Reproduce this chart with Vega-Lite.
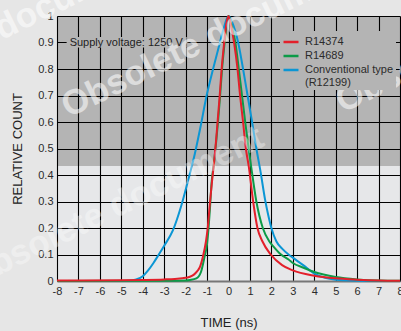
{
  "$schema": "https://vega.github.io/schema/vega-lite/v6.json",
  "width": 343,
  "height": 265,
  "autosize": "none",
  "padding": {"left": 57, "top": 16, "right": 1, "bottom": 50},
  "background": "#e6e6e6",
  "config": {
    "font": "Liberation Sans",
    "view": {
      "stroke": null,
      "fill": {
        "gradient": "linear",
        "x1": 0, "y1": 0, "x2": 0, "y2": 1,
        "stops": [
          {"offset": 0, "color": "#b4b4b4"},
          {"offset": 0.566, "color": "#b4b4b4"},
          {"offset": 0.567, "color": "#e6e7e9"},
          {"offset": 1, "color": "#e6e7e9"}
        ]
      }
    },
    "axis": {
      "grid": true,
      "gridColor": "#000000",
      "gridOpacity": 1,
      "gridWidth": 1.1,
      "ticks": false,
      "labelOverlap": false,
      "labelFlush": false,
      "labelPadding": 4,
      "labelFont": "Liberation Sans",
      "labelFontSize": 11,
      "labelColor": "#2b2b2b",
      "titleFont": "Liberation Sans",
      "titleFontSize": 13,
      "titleFontWeight": "normal",
      "titleColor": "#222222"
    },
    "axisX": {"tickCount": 16, "labelExpr": "'' + datum.value", "titlePadding": 20, "domainColor": "#777777", "domainWidth": 2},
    "axisY": {"tickCount": 10, "format": "~g", "titlePadding": 13, "domain": false},
    "legend": {
      "orient": "none",
      "legendX": 223,
      "legendY": 15,
      "zindex": 1,
      "fillColor": "#b4b4b4",
      "padding": 2,
      "symbolType": "stroke",
      "symbolStrokeWidth": 2.5,
      "symbolSize": 225,
      "labelFont": "Liberation Sans",
      "labelFontSize": 11,
      "labelColor": "#2b2b2b",
      "labelOffset": 5,
      "labelLimit": 200,
      "rowPadding": -1,
      "title": null
    }
  },
  "layer": [
    {
      "data": {
        "values": [
          {"series": "Conventional type (R12199)", "t": -8, "count": 0},
          {"series": "Conventional type (R12199)", "t": -6, "count": 0},
          {"series": "Conventional type (R12199)", "t": -5, "count": 0},
          {"series": "Conventional type (R12199)", "t": -4.6, "count": 0.001},
          {"series": "Conventional type (R12199)", "t": -4.3, "count": 0.006},
          {"series": "Conventional type (R12199)", "t": -4, "count": 0.018},
          {"series": "Conventional type (R12199)", "t": -3.75, "count": 0.04},
          {"series": "Conventional type (R12199)", "t": -3.5, "count": 0.068},
          {"series": "Conventional type (R12199)", "t": -3.25, "count": 0.1},
          {"series": "Conventional type (R12199)", "t": -3, "count": 0.133},
          {"series": "Conventional type (R12199)", "t": -2.6, "count": 0.19},
          {"series": "Conventional type (R12199)", "t": -2.2, "count": 0.285},
          {"series": "Conventional type (R12199)", "t": -1.9, "count": 0.375},
          {"series": "Conventional type (R12199)", "t": -1.57, "count": 0.48},
          {"series": "Conventional type (R12199)", "t": -1.31, "count": 0.58},
          {"series": "Conventional type (R12199)", "t": -1.02, "count": 0.7},
          {"series": "Conventional type (R12199)", "t": -0.72, "count": 0.8},
          {"series": "Conventional type (R12199)", "t": -0.4, "count": 0.9},
          {"series": "Conventional type (R12199)", "t": -0.2, "count": 0.96},
          {"series": "Conventional type (R12199)", "t": 0, "count": 1.0},
          {"series": "Conventional type (R12199)", "t": 0.2, "count": 0.97},
          {"series": "Conventional type (R12199)", "t": 0.45, "count": 0.9},
          {"series": "Conventional type (R12199)", "t": 0.68, "count": 0.8},
          {"series": "Conventional type (R12199)", "t": 0.89, "count": 0.7},
          {"series": "Conventional type (R12199)", "t": 1.1, "count": 0.6},
          {"series": "Conventional type (R12199)", "t": 1.3, "count": 0.5},
          {"series": "Conventional type (R12199)", "t": 1.5, "count": 0.41},
          {"series": "Conventional type (R12199)", "t": 1.7, "count": 0.31},
          {"series": "Conventional type (R12199)", "t": 1.85, "count": 0.25},
          {"series": "Conventional type (R12199)", "t": 2.0, "count": 0.2},
          {"series": "Conventional type (R12199)", "t": 2.23, "count": 0.15},
          {"series": "Conventional type (R12199)", "t": 2.5, "count": 0.122},
          {"series": "Conventional type (R12199)", "t": 2.8, "count": 0.1},
          {"series": "Conventional type (R12199)", "t": 3.0, "count": 0.088},
          {"series": "Conventional type (R12199)", "t": 3.5, "count": 0.059},
          {"series": "Conventional type (R12199)", "t": 4.0, "count": 0.028},
          {"series": "Conventional type (R12199)", "t": 4.5, "count": 0.012},
          {"series": "Conventional type (R12199)", "t": 5, "count": 0.005},
          {"series": "Conventional type (R12199)", "t": 6, "count": 0.001},
          {"series": "Conventional type (R12199)", "t": 7, "count": 0},
          {"series": "Conventional type (R12199)", "t": 8, "count": 0},
          {"series": "R14689", "t": -8, "count": 0},
          {"series": "R14689", "t": -3, "count": 0.001},
          {"series": "R14689", "t": -2, "count": 0.002},
          {"series": "R14689", "t": -1.8, "count": 0.004},
          {"series": "R14689", "t": -1.5, "count": 0.01},
          {"series": "R14689", "t": -1.28, "count": 0.035},
          {"series": "R14689", "t": -1.12, "count": 0.09},
          {"series": "R14689", "t": -1.0, "count": 0.14},
          {"series": "R14689", "t": -0.93, "count": 0.2},
          {"series": "R14689", "t": -0.86, "count": 0.28},
          {"series": "R14689", "t": -0.79, "count": 0.37},
          {"series": "R14689", "t": -0.67, "count": 0.45},
          {"series": "R14689", "t": -0.57, "count": 0.53},
          {"series": "R14689", "t": -0.48, "count": 0.61},
          {"series": "R14689", "t": -0.39, "count": 0.7},
          {"series": "R14689", "t": -0.3, "count": 0.8},
          {"series": "R14689", "t": -0.18, "count": 0.9},
          {"series": "R14689", "t": -0.08, "count": 0.97},
          {"series": "R14689", "t": 0, "count": 1.0},
          {"series": "R14689", "t": 0.12, "count": 0.97},
          {"series": "R14689", "t": 0.32, "count": 0.9},
          {"series": "R14689", "t": 0.48, "count": 0.8},
          {"series": "R14689", "t": 0.63, "count": 0.7},
          {"series": "R14689", "t": 0.78, "count": 0.6},
          {"series": "R14689", "t": 0.94, "count": 0.5},
          {"series": "R14689", "t": 1.06, "count": 0.43},
          {"series": "R14689", "t": 1.3, "count": 0.3},
          {"series": "R14689", "t": 1.6, "count": 0.2},
          {"series": "R14689", "t": 1.9, "count": 0.15},
          {"series": "R14689", "t": 2.1, "count": 0.13},
          {"series": "R14689", "t": 2.45, "count": 0.1},
          {"series": "R14689", "t": 2.8, "count": 0.081},
          {"series": "R14689", "t": 3, "count": 0.068},
          {"series": "R14689", "t": 3.5, "count": 0.05},
          {"series": "R14689", "t": 4, "count": 0.034},
          {"series": "R14689", "t": 5, "count": 0.015},
          {"series": "R14689", "t": 6, "count": 0.006},
          {"series": "R14689", "t": 7, "count": 0.002},
          {"series": "R14689", "t": 8, "count": 0.001},
          {"series": "R14374", "t": -8, "count": 0.002},
          {"series": "R14374", "t": -5, "count": 0.003},
          {"series": "R14374", "t": -4, "count": 0.004},
          {"series": "R14374", "t": -3, "count": 0.006},
          {"series": "R14374", "t": -2.5, "count": 0.008},
          {"series": "R14374", "t": -2, "count": 0.012},
          {"series": "R14374", "t": -1.8, "count": 0.016},
          {"series": "R14374", "t": -1.6, "count": 0.025},
          {"series": "R14374", "t": -1.45, "count": 0.038},
          {"series": "R14374", "t": -1.35, "count": 0.05},
          {"series": "R14374", "t": -1.2, "count": 0.09},
          {"series": "R14374", "t": -1.05, "count": 0.15},
          {"series": "R14374", "t": -0.97, "count": 0.2},
          {"series": "R14374", "t": -0.86, "count": 0.3},
          {"series": "R14374", "t": -0.77, "count": 0.375},
          {"series": "R14374", "t": -0.67, "count": 0.45},
          {"series": "R14374", "t": -0.58, "count": 0.53},
          {"series": "R14374", "t": -0.5, "count": 0.61},
          {"series": "R14374", "t": -0.41, "count": 0.7},
          {"series": "R14374", "t": -0.32, "count": 0.8},
          {"series": "R14374", "t": -0.2, "count": 0.9},
          {"series": "R14374", "t": -0.1, "count": 0.97},
          {"series": "R14374", "t": 0, "count": 1.0},
          {"series": "R14374", "t": 0.1, "count": 0.97},
          {"series": "R14374", "t": 0.26, "count": 0.9},
          {"series": "R14374", "t": 0.42, "count": 0.8},
          {"series": "R14374", "t": 0.54, "count": 0.7},
          {"series": "R14374", "t": 0.68, "count": 0.6},
          {"series": "R14374", "t": 0.81, "count": 0.5},
          {"series": "R14374", "t": 0.95, "count": 0.43},
          {"series": "R14374", "t": 1.15, "count": 0.3},
          {"series": "R14374", "t": 1.35, "count": 0.2},
          {"series": "R14374", "t": 1.58, "count": 0.15},
          {"series": "R14374", "t": 1.97, "count": 0.1},
          {"series": "R14374", "t": 2.5, "count": 0.06},
          {"series": "R14374", "t": 3, "count": 0.04},
          {"series": "R14374", "t": 4, "count": 0.02},
          {"series": "R14374", "t": 5, "count": 0.01},
          {"series": "R14374", "t": 6, "count": 0.005},
          {"series": "R14374", "t": 7, "count": 0.002},
          {"series": "R14374", "t": 8, "count": 0.001}
        ]
      },
      "mark": {"type": "line", "strokeWidth": 2, "interpolate": "monotone"},
      "encoding": {
        "x": {
          "field": "t", "type": "quantitative",
          "scale": {"domain": [-8, 8]},
          "axis": {"title": "TIME (ns)"}
        },
        "y": {
          "field": "count", "type": "quantitative",
          "scale": {"domain": [0, 1]},
          "axis": {"title": "RELATIVE COUNT"}
        },
        "color": {
          "field": "series", "type": "nominal",
          "scale": {
            "domain": ["R14374", "R14689", "Conventional type (R12199)"],
            "range": ["#e3202b", "#0c9b48", "#0b96d4"]
          },
          "legend": {
            "labelExpr": "datum.label == 'Conventional type (R12199)' ? ['Conventional type', '(R12199)'] : datum.label"
          }
        }
      }
    },
    {
      "data": {"values": [{"label": "Supply voltage: 1250 V"}]},
      "mark": {"type": "rect", "fill": "#b4b4b4"},
      "encoding": {
        "x": {"datum": -7.55, "type": "quantitative", "scale": {"domain": [-8, 8]}},
        "x2": {"datum": -1.95},
        "y": {"datum": 0.881, "type": "quantitative", "scale": {"domain": [0, 1]}},
        "y2": {"datum": 0.921}
      }
    },
    {
      "data": {"values": [{"label": "Supply voltage: 1250 V"}]},
      "mark": {"type": "text", "align": "left", "baseline": "middle", "font": "Liberation Sans", "fontSize": 11, "color": "#222222"},
      "encoding": {
        "x": {"datum": -7.41, "type": "quantitative", "scale": {"domain": [-8, 8]}},
        "y": {"datum": 0.9, "type": "quantitative", "scale": {"domain": [0, 1]}},
        "text": {"field": "label"}
      }
    },
    {
      "data": {"values": [{"w": "Obsolete document"}]},
      "mark": {"type": "text", "align": "left", "baseline": "middle", "angle": -26, "font": "Liberation Sans", "fontWeight": "bold", "fontSize": 35, "color": "#ffffff", "opacity": 0.55},
      "encoding": {
        "x": {"datum": -7.69, "type": "quantitative", "scale": {"domain": [-8, 8]}},
        "y": {"datum": 0.652, "type": "quantitative", "scale": {"domain": [0, 1]}},
        "text": {"field": "w"}
      }
    },
    {
      "data": {"values": [{"w": "Obsolete document"}]},
      "mark": {"type": "text", "align": "left", "baseline": "middle", "angle": -26, "font": "Liberation Sans", "fontWeight": "bold", "fontSize": 35, "color": "#ffffff", "opacity": 0.55},
      "encoding": {
        "x": {"datum": -17.49, "type": "quantitative", "scale": {"domain": [-8, 8]}},
        "y": {"datum": 0.682, "type": "quantitative", "scale": {"domain": [0, 1]}},
        "text": {"field": "w"}
      }
    },
    {
      "data": {"values": [{"w": "Obsolete document"}]},
      "mark": {"type": "text", "align": "left", "baseline": "middle", "angle": -26, "font": "Liberation Sans", "fontWeight": "bold", "fontSize": 35, "color": "#ffffff", "opacity": 0.55},
      "encoding": {
        "x": {"datum": 5.1, "type": "quantitative", "scale": {"domain": [-8, 8]}},
        "y": {"datum": 0.67, "type": "quantitative", "scale": {"domain": [0, 1]}},
        "text": {"field": "w"}
      }
    },
    {
      "data": {"values": [{"w": "Obsolete document"}]},
      "mark": {"type": "text", "align": "left", "baseline": "middle", "angle": -26, "font": "Liberation Sans", "fontWeight": "bold", "fontSize": 35, "color": "#ffffff", "opacity": 0.35},
      "encoding": {
        "x": {"datum": -12.17, "type": "quantitative", "scale": {"domain": [-8, 8]}},
        "y": {"datum": 0.01, "type": "quantitative", "scale": {"domain": [0, 1]}},
        "text": {"field": "w"}
      }
    }
  ]
}
